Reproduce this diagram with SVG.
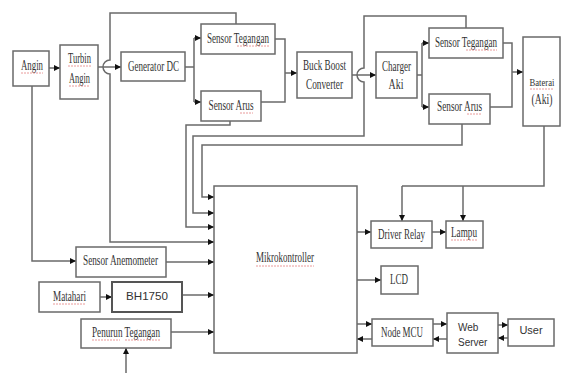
<svg xmlns="http://www.w3.org/2000/svg" width="561" height="373" viewBox="0 0 561 373">
<defs>
<marker id="ah" viewBox="0 0 10 10" refX="10" refY="5" markerWidth="6" markerHeight="6" markerUnits="userSpaceOnUse" orient="auto">
<path d="M0,0 L10,5 L0,10 z" fill="#111"/>
</marker>
<style>
.box{fill:#fff;stroke:#6a6a6a;stroke-width:1.5}
.ln{fill:none;stroke:#6a6a6a;stroke-width:1.5}
.ar{fill:none;stroke:#6a6a6a;stroke-width:1.5;marker-end:url(#ah)}
.t{font-family:"Liberation Serif","Times New Roman",serif;font-size:14px;fill:#333;text-anchor:middle}
.s{font-family:"Liberation Sans",Arial,sans-serif;fill:#333}
.sq{fill:none;stroke:#e07070;stroke-width:1;stroke-dasharray:2 1;opacity:.7}
</style>
</defs>
<rect width="561" height="373" fill="#fff"/>

<g id="connectors">
<path class="ar" d="M49,68 H60"/>
<path class="ar" d="M98,67 H121"/>
<path class="ln" d="M185,67 H194 M194,38 V102"/>
<path class="ar" d="M194,38 H201"/>
<path class="ar" d="M194,102 H201"/>
<path class="ln" d="M275,39 H285 V102 H261"/>
<path class="ar" d="M285,73 H297"/>
<path class="ar" d="M352,75 H376"/>
<path class="ln" d="M417,75 H422 M422,43 V107"/>
<path class="ar" d="M422,43 H429"/>
<path class="ar" d="M422,107 H429"/>
<path class="ln" d="M503,43 H512 V107 H490"/>
<path class="ar" d="M512,72 H523"/>
<path class="ar" d="M236,24 V13 H110 V60 A7,7 0 0 0 110,74 V242 H214"/>
<path class="ar" d="M230,121 V125 H186 V227 H214"/>
<path class="ar" d="M466,28 V16 H364 V68 A7,7 0 0 0 364,82 V136 H193 V213 H214"/>
<path class="ar" d="M462,124 V145 H202 V197 H214"/>
<path class="ar" d="M32,86 V261 H76"/>
<path class="ar" d="M166,262 H214"/>
<path class="ar" d="M100,297 H112"/>
<path class="ar" d="M182,295 H214"/>
<path class="ar" d="M171,332 H214"/>
<path class="ar" d="M126,373 V348"/>
<path class="ln" d="M544,126 V186 H402"/>
<path class="ar" d="M402,186 V221"/>
<path class="ar" d="M463,186 V221"/>
<path class="ar" d="M357,232 H371"/>
<path class="ar" d="M432,232 H446"/>
<path class="ar" d="M357,280 H381"/>
<path class="ar" d="M357,324 H372"/>
<path class="ar" d="M372,339 H357"/>
<path class="ar" d="M433,324 H447"/>
<path class="ar" d="M447,339 H433"/>
<path class="ar" d="M498,325 H508"/>
<path class="ar" d="M508,338 H498"/>
</g>

<g id="angin"><rect class="box" x="13" y="51" width="36" height="35"/><text class="t" x="32" y="70" textLength="22" lengthAdjust="spacingAndGlyphs">Angin</text></g>
<g id="turbin"><rect class="box" x="60" y="45" width="38" height="54"/><text class="t" x="79.5" y="63" textLength="23" lengthAdjust="spacingAndGlyphs">Turbin</text><text class="t" x="79.5" y="83" textLength="21" lengthAdjust="spacingAndGlyphs">Angin</text></g>
<g id="generator"><rect class="box" x="121" y="52" width="64" height="29"/><text class="t" x="153.5" y="71" textLength="51" lengthAdjust="spacingAndGlyphs">Generator DC</text></g>
<g id="sensor-tegangan-1"><rect class="box" x="201" y="24" width="74" height="30"/><text class="t" x="238" y="43" textLength="62" lengthAdjust="spacingAndGlyphs">Sensor Tegangan</text></g>
<g id="sensor-arus-1"><rect class="box" x="201" y="91" width="60" height="30"/><text class="t" x="231" y="110" textLength="45" lengthAdjust="spacingAndGlyphs">Sensor Arus</text></g>
<g id="buck-boost"><rect class="box" x="297" y="52" width="55" height="46"/><text class="t" x="324.5" y="70" textLength="43" lengthAdjust="spacingAndGlyphs">Buck Boost</text><text class="t" x="324.5" y="89" textLength="37" lengthAdjust="spacingAndGlyphs">Converter</text></g>
<g id="charger"><rect class="box" x="376" y="52" width="41" height="46"/><text class="t" x="396.5" y="71" textLength="29" lengthAdjust="spacingAndGlyphs">Charger</text><text class="t" x="396" y="89" textLength="15" lengthAdjust="spacingAndGlyphs">Aki</text></g>
<g id="sensor-tegangan-2"><rect class="box" x="429" y="28" width="74" height="30"/><text class="t" x="466" y="47" textLength="62" lengthAdjust="spacingAndGlyphs">Sensor Tegangan</text></g>
<g id="sensor-arus-2"><rect class="box" x="429" y="94" width="61" height="30"/><text class="t" x="459.5" y="111" textLength="45" lengthAdjust="spacingAndGlyphs">Sensor Arus</text></g>
<g id="baterai"><rect class="box" x="523" y="37" width="37" height="89"/><text class="t" x="542" y="86" style="font-size:11px" textLength="25" lengthAdjust="spacingAndGlyphs">Baterai</text><text class="t" x="542" y="104" textLength="21" lengthAdjust="spacingAndGlyphs">(Aki)</text></g>
<g id="mikrokontroller"><rect class="box" x="214" y="186" width="143" height="167"/><text class="t" x="285" y="262" textLength="58" lengthAdjust="spacingAndGlyphs">Mikrokontroller</text></g>
<g id="sensor-anemometer"><rect class="box" x="76" y="247" width="90" height="30"/><text class="t" x="120.5" y="265" textLength="75" lengthAdjust="spacingAndGlyphs">Sensor Anemometer</text></g>
<g id="matahari"><rect class="box" x="39" y="282" width="61" height="30"/><text class="t" x="69.5" y="301" textLength="33" lengthAdjust="spacingAndGlyphs">Matahari</text></g>
<g id="bh1750"><rect class="box" x="112" y="282" width="70" height="30" style="stroke:#555;stroke-width:2"/><text class="s" x="147" y="300" font-size="11.5" text-anchor="middle" textLength="42" lengthAdjust="spacingAndGlyphs">BH1750</text></g>
<g id="penurun-tegangan"><rect class="box" x="81" y="319" width="90" height="29"/><text class="t" x="126" y="337" textLength="68" lengthAdjust="spacingAndGlyphs">Penurun Tegangan</text></g>
<g id="driver-relay"><rect class="box" x="371" y="221" width="61" height="27"/><text class="t" x="401.5" y="239" textLength="47" lengthAdjust="spacingAndGlyphs">Driver Relay</text></g>
<g id="lampu"><rect class="box" x="446" y="221" width="37" height="27"/><text class="t" x="464" y="237" textLength="26" lengthAdjust="spacingAndGlyphs">Lampu</text></g>
<g id="lcd"><rect class="box" x="381" y="266" width="37" height="28"/><text class="t" x="399" y="284" textLength="18" lengthAdjust="spacingAndGlyphs">LCD</text></g>
<g id="node-mcu"><rect class="box" x="372" y="319" width="61" height="27"/><text class="t" x="402" y="337" textLength="42" lengthAdjust="spacingAndGlyphs">Node MCU</text></g>
<g id="web-server"><rect class="box" x="447" y="313" width="51" height="40"/><text class="s" x="458" y="331" font-size="10">Web</text><text class="s" x="458" y="346" font-size="10">Server</text></g>
<g id="user"><rect class="box" x="508" y="319" width="46" height="27"/><text class="s" x="531" y="334" font-size="11" text-anchor="middle">User</text></g>

<g id="spellcheck-marks">
<path class="sq" d="M21,73 H43 M68,66 H91 M69,86 H90 M237,46 H269 M240,113 H253 M466,50 H497 M467,114 H482 M530,89 H554 M256,266 H314 M53,304 H86 M92,340 H120 M125,340 H160 M451,240 H477"/>
</g>
</svg>
